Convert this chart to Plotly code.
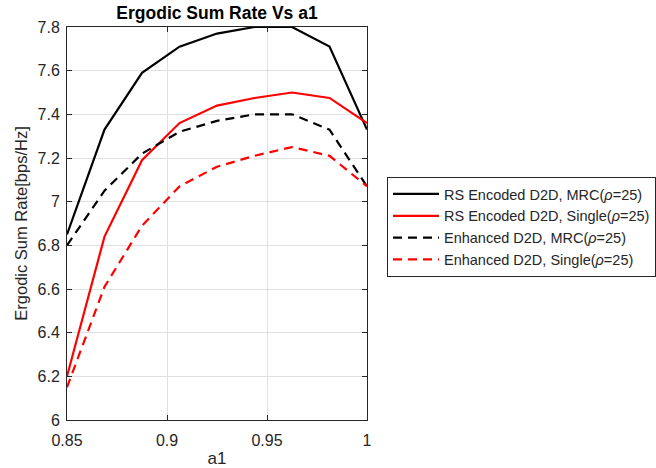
import plotly.graph_objects as go

a1 = [0.85, 0.86875, 0.8875, 0.90625, 0.925, 0.94375, 0.9625, 0.98125, 1.0]
rs_mrc = [6.85, 7.33, 7.59, 7.71, 7.77, 7.80, 7.80, 7.71, 7.33]
rs_single = [6.20, 6.84, 7.19, 7.36, 7.44, 7.475, 7.50, 7.475, 7.36]
enh_mrc = [6.80, 7.05, 7.22, 7.32, 7.37, 7.40, 7.40, 7.33, 7.07]
enh_single = [6.15, 6.61, 6.89, 7.07, 7.16, 7.21, 7.25, 7.21, 7.07]

names = ["RS Encoded D2D, MRC(<i>ρ</i>=25)",
         "RS Encoded D2D, Single(<i>ρ</i>=25)",
         "Enhanced D2D, MRC(<i>ρ</i>=25)",
         "Enhanced D2D, Single(<i>ρ</i>=25)"]
series = [rs_mrc, rs_single, enh_mrc, enh_single]
colors = ["#000000", "#ff0000", "#000000", "#ff0000"]
dashes = ["solid", "solid", "9px,6px", "9px,6px"]

y_ticks = [6, 6.2, 6.4, 6.6, 6.8, 7, 7.2, 7.4, 7.6, 7.8]
x_ticks = [0.85, 0.9, 0.95, 1.0]

fig = go.Figure()
for n, s, c, d in zip(names, series, colors, dashes):
    fig.add_trace(go.Scatter(x=a1, y=s, mode="lines", name=n,
                             line=dict(color=c, width=2.2, dash=d)))

font = "Liberation Sans, Arial, sans-serif"
fig.update_layout(
    width=656, height=468,
    margin=dict(l=67, r=289, t=27, b=48, autoexpand=False),
    paper_bgcolor="white", plot_bgcolor="white",
    font=dict(family=font, size=16, color="#262626"),
    title=dict(text="<b>Ergodic Sum Rate Vs a1</b>", x=(67 + 150) / 656, xanchor="center",
               y=1 - 13 / 468, yanchor="middle", font=dict(size=17.5, color="#000000")),
    xaxis=dict(range=[0.85, 1.0], tickvals=x_ticks, ticktext=["0.85", "0.9", "0.95", "1"],
               showgrid=True, gridcolor="#e0e0e0", gridwidth=1,
               showline=True, linecolor="#262626", linewidth=1, mirror="ticks",
               ticks="inside", ticklen=5, tickcolor="#262626", zeroline=False,
               ticklabelstandoff=6, automargin=False,
               title=dict(text="a1", standoff=4, font=dict(size=17))),
    yaxis=dict(range=[6, 7.8], tickvals=y_ticks, ticktext=[("%g" % v) for v in y_ticks],
               showgrid=True, gridcolor="#e0e0e0", gridwidth=1,
               showline=True, linecolor="#262626", linewidth=1, mirror="ticks",
               ticks="inside", ticklen=5, tickcolor="#262626", zeroline=False,
               ticklabelstandoff=3, automargin=False,
               title=dict(text="Ergodic Sum Rate[bps/Hz]", standoff=5, font=dict(size=16.5))),
    legend=dict(x=(387 - 67) / 300, xanchor="left", y=(420 - 177) / 393, yanchor="top",
                bordercolor="#262626", borderwidth=1, bgcolor="white", itemwidth=46,
                font=dict(size=14.5, color="#262626"), tracegroupgap=0),
    showlegend=True,
)

fig.write_html("out.html")
